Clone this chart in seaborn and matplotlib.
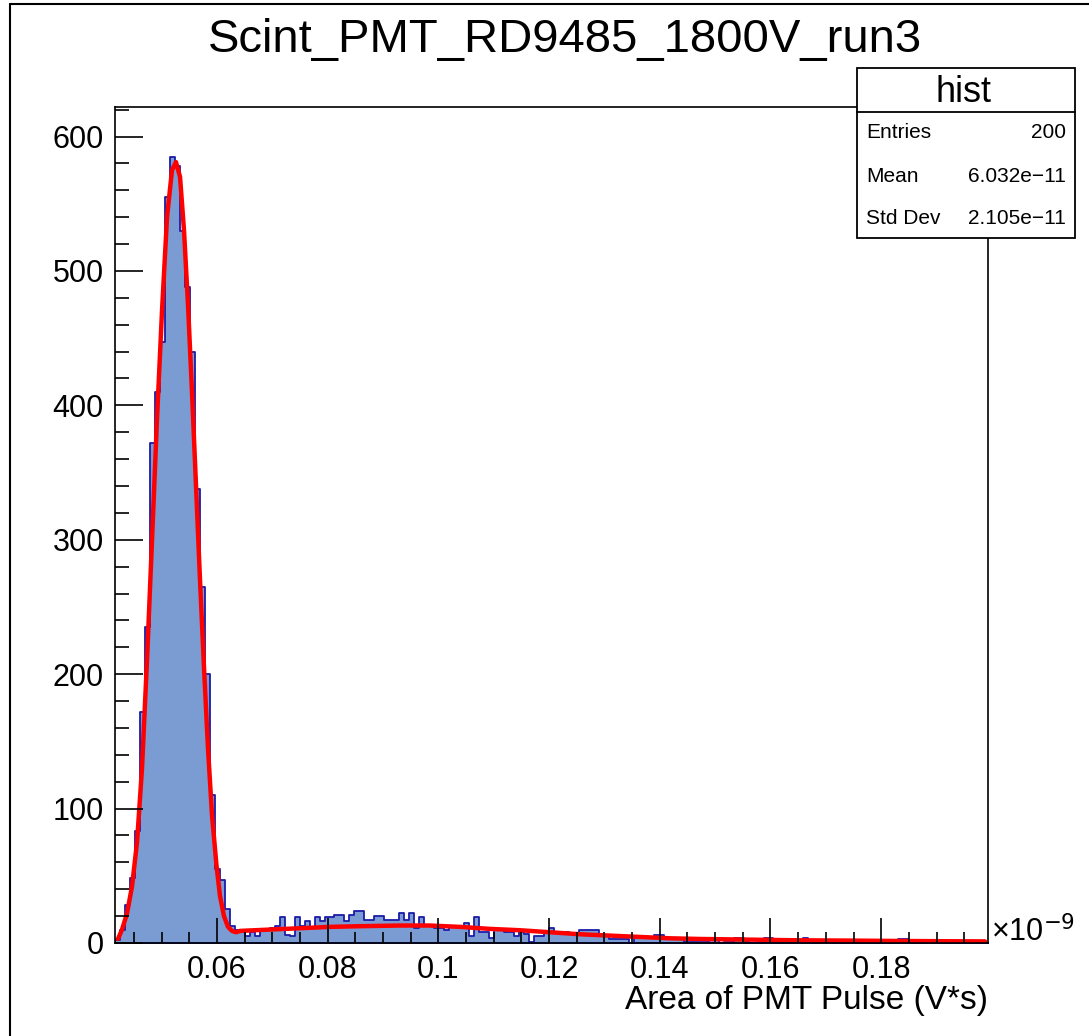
import numpy as np
import pandas as pd
import matplotlib
matplotlib.use("Agg")
import matplotlib.pyplot as plt
from matplotlib.patches import Rectangle
from matplotlib.ticker import MultipleLocator, FixedLocator, FixedFormatter
import seaborn as sns

# ---------------- data ----------------
title = "Scint_PMT_RD9485_1800V_run3"
x_label = "Area of PMT Pulse (V*s)"
x_min, x_max = 0.04157, 0.1993
y_max = 622
n_bins = 175

counts = [
    2, 10, 28, 48, 83, 172, 235, 372, 410, 447,
    555, 585, 578, 530, 488, 440, 338, 265, 200, 110,
    55, 47, 25, 13, 10, 10, 5, 8, 5, 10,
    10, 11, 13, 19, 6, 5, 19, 13, 16, 11,
    19, 16, 19, 19, 21, 21, 16, 21, 24, 24,
    17, 17, 20, 20, 17, 17, 17, 22, 17, 22,
    11, 19, 13, 13, 11, 11, 10, 13, 12, 12,
    15, 5, 19, 8, 8, 4, 10, 10, 8, 8,
    5, 8, 7, 1, 5, 5, 8, 11, 8, 8,
    8, 7, 7, 10, 10, 10, 10, 5, 5, 3,
    3, 3, 3, 0, 5, 4, 4, 4, 6, 6,
    4, 4, 4, 4, 1, 1, 1, 1, 1, 4,
    4, 0, 1, 1, 4, 4, 1, 0, 0, 0,
    4, 4, 1, 0, 1, 0, 1, 1, 4, 1,
    0, 1, 2, 1, 0, 0, 0, 1, 0, 0,
    0, 0, 1, 0, 0, 0, 0, 3, 3, 0,
    0, 0, 0, 1, 0, 0, 0, 0, 0, 0,
    0, 0, 0, 0, 0,
]

fit_x = [0.04211, 0.04284, 0.04374, 0.04464, 0.04555, 0.04645, 0.04735, 0.04826,
         0.04916, 0.05006, 0.05097, 0.05187, 0.05259, 0.05332, 0.05404, 0.05476,
         0.05548, 0.05621, 0.05693, 0.05765, 0.05837, 0.0591, 0.0599, 0.06054,
         0.06126, 0.06199, 0.06271, 0.06343, 0.06416, 0.06958, 0.075, 0.08042,
         0.08584, 0.09306, 0.09848, 0.1039, 0.10932, 0.11474, 0.12016, 0.12558,
         0.131, 0.13642, 0.14184, 0.14726, 0.1563, 0.16533, 0.17437, 0.1834,
         0.19243, 0.19875]
fit_y = [3, 10, 22, 42, 75, 130, 210, 300,
         390, 470, 540, 575, 581, 570, 530, 475,
         410, 340, 270, 205, 145, 95, 58, 35,
         20, 12, 9, 8, 9, 10, 11, 12,
         12.5, 13, 13, 12, 10.5, 9.5, 8, 6.5,
         5.5, 4.5, 3.5, 3, 2.5, 2, 1.8, 1.5,
         1.3, 1.2]

stats_names = ["Entries", "Mean", "Std Dev"]
stats_values = ["200", "6.032e\u221211", "2.105e\u221211"]
stats_title = "hist"

y_ticks = [0, 100, 200, 300, 400, 500, 600]
x_ticks = [0.06, 0.08, 0.1, 0.12, 0.14, 0.16, 0.18]
x_tick_labels = ["0.06", "0.08", "0.1", "0.12", "0.14", "0.16", "0.18"]

# ---------------- figure ----------------
sns.set_theme(style="white")
plt.rcParams["font.family"] = ["Liberation Sans", "DejaVu Sans"]
plt.rcParams["text.color"] = "black"
plt.rcParams["xtick.color"] = "black"
plt.rcParams["ytick.color"] = "black"

W, H = 1089, 1036
fig = plt.figure(figsize=(W / 100, H / 100), dpi=100)
fig.patch.set_facecolor("white")

def fx(px):
    return px / W

def fy(py):
    return 1 - py / H

ax = fig.add_axes([fx(115), fy(943), fx(988) - fx(115), fy(107) - fy(943)])

bin_width = (x_max - x_min) / n_bins
centers = [x_min + (i + 0.5) * bin_width for i in range(n_bins)]
df = pd.DataFrame({"x": centers, "w": counts})

sns.histplot(data=df, x="x", weights="w", bins=n_bins, binrange=(x_min, x_max),
             element="step", fill=True,
             color="#7b9bd3", alpha=1.0, edgecolor="#1c1ca8", linewidth=1.3, ax=ax,
             legend=False)
sns.lineplot(x=fit_x, y=fit_y, color="#ff0000", linewidth=3.2, ax=ax, legend=False)

ax.set_xlim(x_min, x_max)
ax.set_ylim(0, y_max)
ax.set_xlabel("")
ax.set_ylabel("")

for s in ax.spines.values():
    s.set_visible(True)
    s.set_color("black")
    s.set_linewidth(1.2)

ax.xaxis.set_major_locator(FixedLocator(x_ticks))
ax.xaxis.set_major_formatter(FixedFormatter(x_tick_labels))
ax.xaxis.set_minor_locator(MultipleLocator(0.005))
ax.yaxis.set_major_locator(FixedLocator(y_ticks))
ax.yaxis.set_minor_locator(MultipleLocator(20))
ax.tick_params(axis="both", which="both", direction="in", color="black",
               labelcolor="black", bottom=True, left=True,
               top=False, right=False, labelsize=22, width=1.2)
ax.tick_params(axis="x", which="major", length=18, pad=9)
ax.tick_params(axis="x", which="minor", length=8)
ax.tick_params(axis="y", which="major", length=20, pad=8)
ax.tick_params(axis="y", which="minor", length=10)
ax.set_axisbelow(False)

# title
fig.text(fx(565), fy(40), title, ha="center", va="center", fontsize=34)
# x label
fig.text(fx(988), fy(1001), x_label, ha="right", va="center", fontsize=24)
# exponent
fig.text(fx(991), fy(932), "\u00d710$^{-9}$", ha="left", va="center", fontsize=22)

# stats box
bx0, bx1, by0, by1, bsep = 857, 1075, 68, 238, 112
fig.add_artist(Rectangle((fx(bx0), fy(by1)), fx(bx1) - fx(bx0), fy(by0) - fy(by1),
                         transform=fig.transFigure, facecolor="white",
                         edgecolor="black", linewidth=1.3, zorder=5))
fig.add_artist(plt.Line2D([fx(bx0), fx(bx1)], [fy(bsep), fy(bsep)],
                          transform=fig.transFigure, color="black", linewidth=1.3, zorder=6))
fig.text(fx(964), fy(92), stats_title, ha="center", va="center",
         fontsize=26, zorder=7)
for i, (n, v) in enumerate(zip(stats_names, stats_values)):
    yy = 133 + i * 43
    fig.text(fx(866), fy(yy), n, ha="left", va="center", fontsize=15, zorder=7)
    fig.text(fx(1066), fy(yy), v, ha="right", va="center", fontsize=15, zorder=7)

# canvas border (left and top edges visible)
fig.add_artist(plt.Line2D([fx(10), fx(10)], [fy(3.5), 0], transform=fig.transFigure,
                          color="black", linewidth=1.5, zorder=8))
fig.add_artist(plt.Line2D([fx(10), 1], [fy(3.5), fy(3.5)], transform=fig.transFigure,
                          color="black", linewidth=1.5, zorder=8))

fig.savefig("out.png", dpi=100)
